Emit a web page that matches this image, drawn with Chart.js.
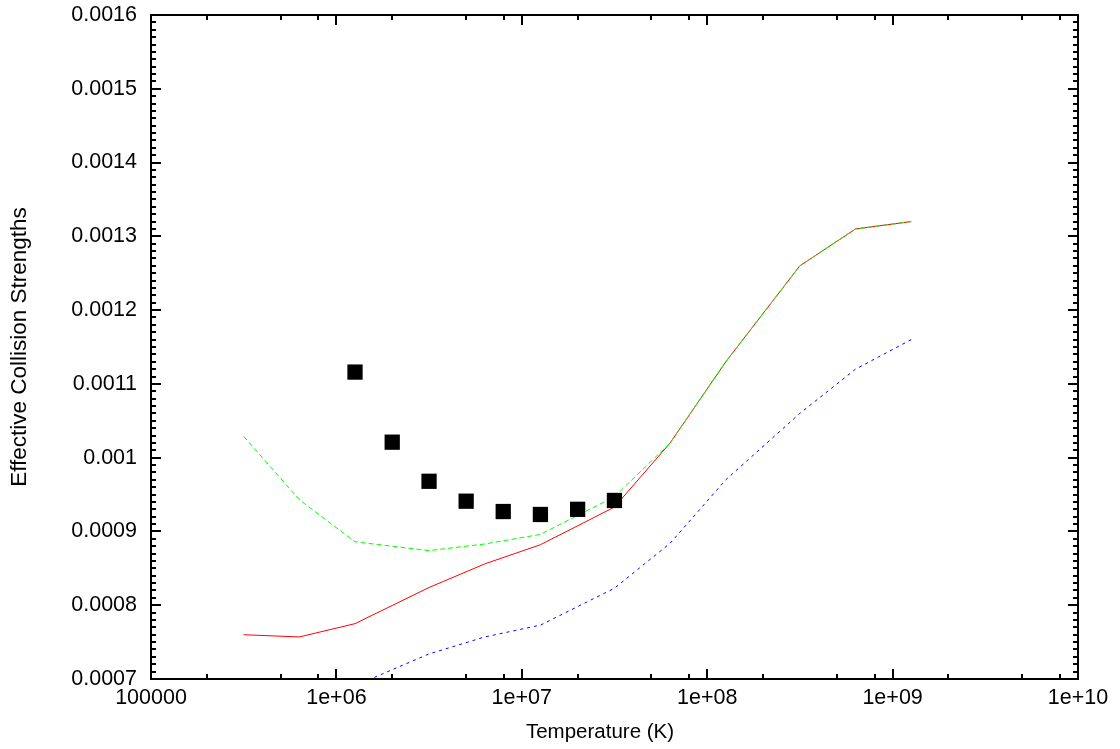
<!DOCTYPE html>
<html>
<head>
<meta charset="utf-8">
<title>Effective Collision Strengths</title>
<script src="https://cdn.jsdelivr.net/npm/chart.js@4/dist/chart.umd.min.js"></script>
<style>
  html,body{margin:0;padding:0;background:#fff;}
  #wrap{width:1120px;height:749px;}
</style>
</head>
<body>
<div id="wrap"><canvas id="chart" width="1120" height="749"></canvas></div>
<script>
// temperature grid (K) for the calculated curves
const temps     = [3.16e5, 6.31e5, 1.26e6, 3.16e6, 6.31e6, 1.26e7, 3.16e7, 6.31e7, 1.26e8, 3.16e8, 6.31e8, 1.26e9];
const redVals   = [0.000760, 0.000757, 0.000775, 0.000824, 0.000856, 0.000882, 0.000933, 0.00102, 0.00113, 0.00126, 0.00131, 0.00132];
const greenVals = [0.001029, 0.000943, 0.000886, 0.000874, 0.000883, 0.000896, 0.000947, 0.00102, 0.00113, 0.00126, 0.00131, 0.00132];
const blueTemps = [1.26e6, 3.16e6, 6.31e6, 1.26e7, 3.16e7, 6.31e7, 1.26e8, 3.16e8, 6.31e8, 1.26e9];
const blueVals  = [0.000691, 0.000734, 0.000757, 0.000773, 0.000823, 0.000884, 0.00097, 0.00106, 0.00112, 0.00116];

// square markers
const obsTemps = [1.26e6, 2.0e6, 3.16e6, 5.01e6, 7.94e6, 1.26e7, 2.0e7, 3.16e7];
const obsVals  = [0.001116, 0.001021, 0.000968, 0.000941, 0.000927, 0.000923, 0.000930, 0.000942];

const xTickValues = [1e5, 1e6, 1e7, 1e8, 1e9, 1e10];
const xTickLabels = ["100000", "1e+06", "1e+07", "1e+08", "1e+09", "1e+10"];
const yTickValues = [0.0007, 0.0008, 0.0009, 0.001, 0.0011, 0.0012, 0.0013, 0.0014, 0.0015, 0.0016];
const yTickLabels = ["0.0007", "0.0008", "0.0009", "0.001", "0.0011", "0.0012", "0.0013", "0.0014", "0.0015", "0.0016"];
const xTitle = "Temperature (K)";
const yTitle = "Effective Collision Strengths";

const FAMILY = "'Liberation Sans', Arial, sans-serif";
const tickFont = { family: FAMILY, size: 21.5 };

function pts(xs, ys){ return xs.map((x,i)=>({x, y:ys[i]})); }

// box frame with inward ticks on all four sides, plus the x title
const frameTicks = {
  id: "frameTicks",
  afterDatasetsDraw(chart){
    const { ctx, chartArea:a, scales:{ x, y } } = chart;
    ctx.save();
    ctx.strokeStyle = "#000"; ctx.lineWidth = 2;
    const seg = (x1,y1,x2,y2)=>{ ctx.beginPath(); ctx.moveTo(x1,y1); ctx.lineTo(x2,y2); ctx.stroke(); };
    for(let d=5; d<10; d++){
      for(const m of [2,5,8]){
        const px = Math.round(x.getPixelForValue(m*Math.pow(10,d)));
        seg(px,a.bottom,px,a.bottom-5); seg(px,a.top,px,a.top+5);
      }
    }
    xTickValues.forEach(v=>{
      const px = Math.round(x.getPixelForValue(v));
      seg(px,a.bottom,px,a.bottom-10); seg(px,a.top,px,a.top+10);
    });
    for(let i=0; i<=90; i++){
      const py = Math.round(y.getPixelForValue(0.0007 + i*0.00001));
      const len = i%10===0 ? 10 : 5;
      seg(a.left,py,a.left+len,py); seg(a.right,py,a.right-len,py);
    }
    ctx.strokeRect(a.left, a.top, a.right-a.left, a.bottom-a.top);

    // x title sits a little left of the plot centre
    ctx.fillStyle = "#000";
    ctx.font = "20.5px " + FAMILY;
    ctx.textAlign = "center"; ctx.textBaseline = "alphabetic";
    ctx.fillText(xTitle, 600, 738);
    ctx.restore();
  }
};

new Chart(document.getElementById("chart"), {
  type: "line",
  data: {
    datasets: [
      { data: pts(obsTemps, obsVals), showLine:false, pointStyle:"rect", pointRadius:10.8,
        pointBackgroundColor:"#000", pointBorderWidth:0, order:0 },
      { data: pts(temps, greenVals), borderColor:"#00ff00", borderWidth:1, borderDash:[5,3],
        pointRadius:0, tension:0, order:1 },
      { data: pts(temps, redVals), borderColor:"#ff0000", borderWidth:1,
        pointRadius:0, tension:0, order:2 },
      { data: pts(blueTemps, blueVals), borderColor:"#0000ff", borderWidth:1, borderDash:[3,4],
        pointRadius:0, tension:0, order:3 }
    ]
  },
  options: {
    responsive:false, animation:false, devicePixelRatio:1,
    layout:{ padding:{ top:15, right:42, left:0, bottom:0 } },
    plugins:{ legend:{ display:false }, tooltip:{ enabled:false } },
    scales:{
      x:{
        type:"logarithmic", min:1e5, max:1e10,
        grid:{ display:false, drawTicks:false }, border:{ display:false },
        afterBuildTicks: s => { s.ticks = xTickValues.map(v=>({ value:v })); },
        afterFit: s => { s.height = 70; s.paddingLeft = 0; s.paddingRight = 0; },
        ticks:{ color:"#000", font:tickFont, padding:6, maxRotation:0, autoSkip:false,
          callback:(v,i)=>xTickLabels[i] },
        title:{ display:false }
      },
      y:{
        type:"linear", min:0.0007, max:0.0016,
        grid:{ display:false, drawTicks:false }, border:{ display:false },
        afterBuildTicks: s => { s.ticks = yTickValues.map(v=>({ value:v })); },
        afterFit: s => { s.width = 151; s.paddingTop = 0; s.paddingBottom = 0; },
        ticks:{ color:"#000", font:tickFont, padding:14, autoSkip:false,
          callback:(v,i)=>yTickLabels[i] },
        title:{ display:true, text:yTitle, color:"#000", font:{ family:FAMILY, size:22.5 },
          padding:{ top:6, bottom:0 } }
      }
    }
  },
  plugins:[frameTicks]
});
</script>
</body>
</html>
